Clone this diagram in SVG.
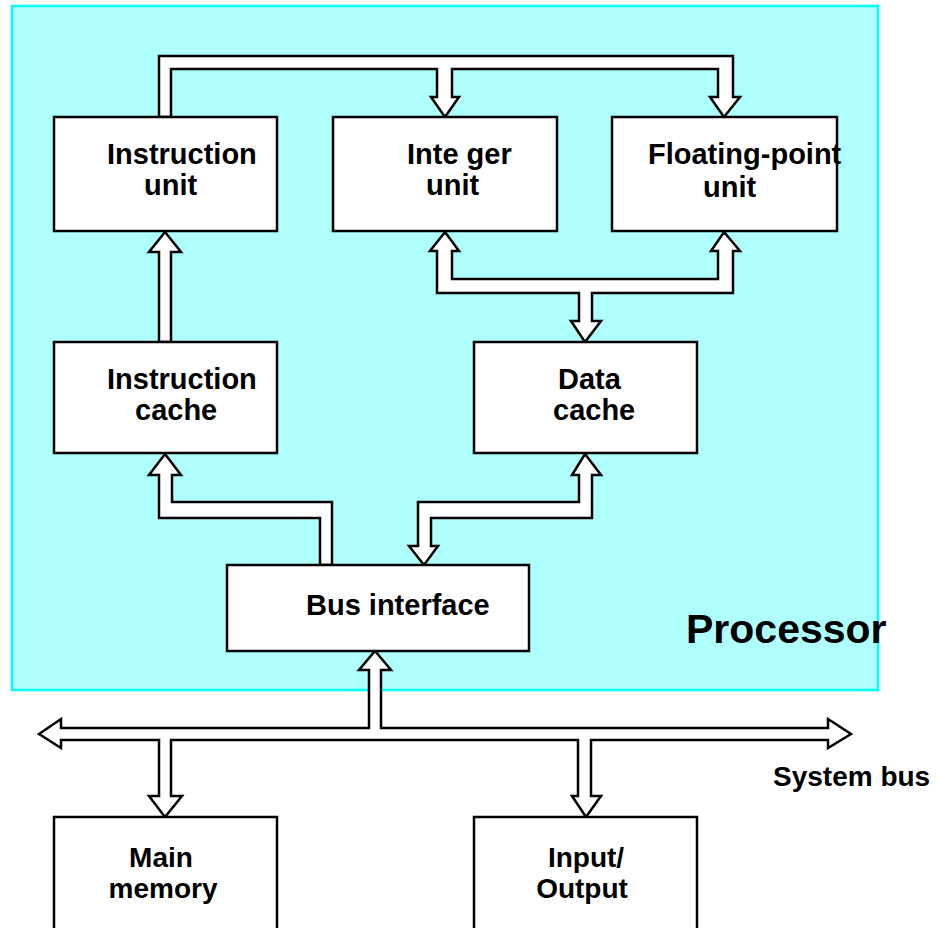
<svg xmlns="http://www.w3.org/2000/svg" width="937" height="928" viewBox="0 0 937 928">
<style>
.box{fill:#ffffff;stroke:#000000;stroke-width:2.5}
.bus{fill:#ffffff;stroke:#000000;stroke-width:2.5;stroke-linejoin:miter}
.t{font-family:"Liberation Sans",Arial,sans-serif;font-weight:bold;font-size:29px;fill:#000000}
.s{font-size:28px}
</style>
<rect width="937" height="928" fill="#ffffff"/>
<g id="processor">
<rect x="12" y="6" width="866" height="684" fill="#afffff" stroke="#00ffff" stroke-width="2.5"/>
</g>
<g id="connectors">
<path class="bus" d="M159,117 L159,56 L733,56 L733,97 L740,97 L724,117 L710,97 L718,97 L718,69 L452,69 L452,97 L459,97 L445,117 L431,97 L437,97 L437,69 L171,69 L171,117 Z"/>
<path class="bus" d="M159,342 L159,252 L149,252 L165,232 L181,252 L171,252 L171,342 Z"/>
<path class="bus" d="M445,232 L459,251 L452,251 L452,279 L718,279 L718,251 L711,251 L724,232 L740,251 L733,251 L733,293 L592,293 L592,321 L601,321 L585,342 L571,321 L579,321 L579,293 L437,293 L437,251 L430,251 Z"/>
<path class="bus" d="M165,454 L181,475 L172,475 L172,502 L332,502 L332,565 L320,565 L320,518 L159,518 L159,475 L149,475 Z"/>
<path class="bus" d="M585,454 L601,475 L592,475 L592,518 L431,518 L431,546 L438,546 L424,565 L409,546 L418,546 L418,502 L579,502 L579,475 L572,475 Z"/>
<path class="bus" d="M39,734 L61,719 L61,728 L369,728 L369,670 L359,670 L375,651 L391,670 L381,670 L381,728 L828,728 L828,719 L851,734 L828,748 L828,740 L591,740 L591,796 L601,796 L586,817 L572,796 L578,796 L578,740 L171,740 L171,796 L182,796 L165,817 L149,796 L159,796 L159,740 L61,740 L61,748 Z"/>
</g>
<g id="instruction-unit">
<rect class="box" x="54" y="117" width="223" height="114"/>
<text class="t" x="107" y="164">Instruction</text>
<text class="t" x="144" y="195">unit</text>
</g>
<g id="integer-unit">
<rect class="box" x="333" y="117" width="224" height="114"/>
<text class="t" x="407" y="164">Inte ger</text>
<text class="t" x="426" y="195">unit</text>
</g>
<g id="floating-point-unit">
<rect class="box" x="612" y="117" width="225" height="114"/>
<text class="t" x="648" y="164">Floating-point</text>
<text class="t" x="703" y="197">unit</text>
</g>
<g id="instruction-cache">
<rect class="box" x="54" y="342" width="223" height="111"/>
<text class="t" x="107" y="389">Instruction</text>
<text class="t" x="135" y="420">cache</text>
</g>
<g id="data-cache">
<rect class="box" x="474" y="342" width="223" height="111"/>
<text class="t" x="558" y="389">Data</text>
<text class="t" x="553" y="420">cache</text>
</g>
<g id="bus-interface">
<rect class="box" x="227" y="565" width="302" height="86"/>
<text class="t" x="306" y="615">Bus interface</text>
</g>
<g id="main-memory">
<rect class="box" x="54" y="817" width="223" height="115"/>
<text class="t s" x="161" y="867" text-anchor="middle">Main</text>
<text class="t s" x="163" y="898" text-anchor="middle">memory</text>
</g>
<g id="input-output">
<rect class="box" x="474" y="817" width="223" height="115"/>
<text class="t s" x="586" y="867" text-anchor="middle">Input/</text>
<text class="t s" x="582" y="898" text-anchor="middle">Output</text>
</g>
<g id="labels">
<text class="t" x="686" y="643" style="font-size:41px">Processor</text>
<text class="t" x="773" y="786" style="font-size:28px">System bus</text>
</g>
</svg>
